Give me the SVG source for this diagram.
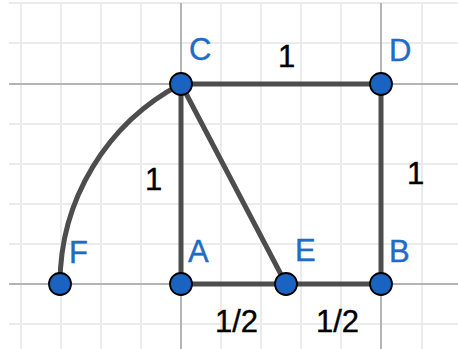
<svg xmlns="http://www.w3.org/2000/svg" width="458" height="349" viewBox="0 0 458 349">
<style>
.grid{stroke:#ebebeb;stroke-width:2;fill:none}
.axis{stroke:#b4b4b4;stroke-width:2;fill:none}
.seg{stroke:#4d4d4d;stroke-width:5;fill:none;stroke-linecap:round}
.pt{fill:#1a63c0;stroke:#000;stroke-width:1.8}
.lbl{font-family:"Liberation Sans",Arial,sans-serif;font-size:31px;fill:#1f6bc6;stroke:#1f6bc6;stroke-width:0.4}
.num{font-family:"Liberation Sans",Arial,sans-serif;font-size:31px;fill:#000;stroke:#000;stroke-width:0.4}
</style>
<rect width="458" height="349" fill="#fff"/>
<g id="grid">
<path class="grid" d="M9 3H458M9 43H458M9 124H458M9 164H458M9 204H458M9 244H458M9 324H458"/>
<path class="grid" d="M21 3V349M61 3V349M101 3V349M141 3V349M221 3V349M261 3V349M301 3V349M341 3V349M422 3V349"/>
<path class="axis" d="M9 84H458M9 284H458M181 3V349M381 3V349"/>
</g>
<g id="connectors">
<path class="seg" d="M181 84H381V284H181Z"/>
<path class="seg" d="M181 84L286 284"/>
<path class="seg" d="M181 84A226 226 0 0 0 60 284"/>
</g>
<g id="labels">
<text class="num" x="278" y="67">1</text>
<text class="num" x="145" y="190">1</text>
<text class="num" x="407" y="184">1</text>
<text class="num" x="215" y="332">1/2</text>
<text class="num" x="316" y="332">1/2</text>
</g>
<g id="node-C"><circle class="pt" cx="181" cy="84" r="11"/><text class="lbl" x="189" y="60">C</text></g>
<g id="node-D"><circle class="pt" cx="381" cy="84" r="11"/><text class="lbl" x="389" y="61">D</text></g>
<g id="node-A"><circle class="pt" cx="181" cy="284" r="11"/><text class="lbl" x="188" y="262">A</text></g>
<g id="node-E"><circle class="pt" cx="286" cy="284" r="11"/><text class="lbl" x="295" y="261">E</text></g>
<g id="node-B"><circle class="pt" cx="381" cy="284" r="11"/><text class="lbl" x="389" y="262">B</text></g>
<g id="node-F"><circle class="pt" cx="60" cy="284" r="11"/><text class="lbl" x="69" y="263">F</text></g>
</svg>
